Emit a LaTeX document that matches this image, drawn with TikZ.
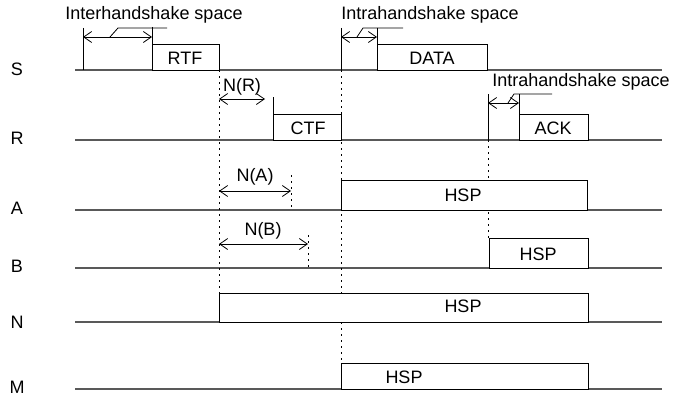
\documentclass[tikz,border=0pt]{standalone}
\usepackage{fontspec}
\setmainfont{Liberation Sans}
\usetikzlibrary{arrows.meta}

\begin{document}
\begin{tikzpicture}[x=1pt, y=-1pt,
        every node/.style={font=\fontsize{18}{21}\selectfont, inner sep=0pt},
        axis/.style={draw=black!65, line width=1.1pt},
        frame/.style={draw, fill=white, line width=0.9pt},
        guide/.style={line width=0.9pt, dash pattern=on 2pt off 4pt},
        gap/.style={{Straight Barb[length=8pt,width=11pt]}-{Straight Barb[length=8pt,width=11pt]}, line width=0.8pt}]
        \useasboundingbox (0,0) rectangle (676,396);

        % stations and their time lines
        \foreach \st/\y/\ly in {S/70/69, R/140/138, A/210/208, B/268/266, N/322/322, M/389/387} {
            \node (lbl\st) at (17,\ly) {\st};
            \coordinate (t\st) at (75,\y);
            \coordinate (e\st) at (662,\y);
            \draw[axis] (t\st) -- (e\st);
        }

        % dotted time marks
        \draw[guide] (219,70) -- (219,293);
        \draw[guide] (341,70) -- (341,363);
        \draw[guide] (488,140) -- (488,238);
        \draw[guide] (291,175) -- (291,210);
        \draw[guide] (308,235) -- (308,268);

        % frames
        \draw[frame] (152,44) rectangle (219,70);
        \draw[frame] (377,44) rectangle (487,70);
        \draw[frame] (273,114) rectangle (341,140);
        \draw[frame] (519,114) rectangle (588,140);
        \draw[frame] (341,180) rectangle (587,210);
        \draw[frame] (489,238) rectangle (588,268);
        \draw[frame] (219,293) rectangle (588,322);
        \draw[frame] (341,363) rectangle (588,389);

        \node (rtf) at (185,58) {RTF};
        \node (data) at (432,58) {DATA};
        \node (ctf) at (308,128) {CTF};
        \node (ack) at (553,128) {ACK};
        \node (hspa) at (463,195) {HSP};
        \node (hspb) at (538,254) {HSP};
        \node (hspn) at (463,306) {HSP};
        \node (hspm) at (404,377) {HSP};

        % handshake spaces
        \draw[line width=0.9pt] (83,28) -- (83,70);
        \draw[line width=0.9pt] (152,27) -- (152,44);
        \draw[line width=0.9pt] (341,28) -- (341,70);
        \draw[line width=0.9pt] (377,28) -- (377,44);
        \draw[line width=0.9pt] (273,97) -- (273,114);
        \draw[line width=0.9pt] (488,94) -- (488,140);
        \draw[line width=0.9pt] (519,94) -- (519,114);

        \coordinate (ia) at (83,37);
        \coordinate (ib) at (152,37);
        \coordinate (ja) at (341,37);
        \coordinate (jb) at (377,37);
        \coordinate (ka) at (488,103);
        \coordinate (kb) at (519,103);
        \draw[gap] (ia) -- (ib);
        \draw[gap] (ja) -- (jb);
        \draw[gap] (ka) -- (kb);
        \draw[line width=0.8pt] (110,37) -- (118,28) -- (167,28);
        \draw[line width=0.8pt] (357,37) -- (363,28) -- (403,28);
        \draw[line width=0.8pt] (508,103) -- (514,94) -- (552,94);
        \node (inter) at (154,15) {Interhandshake space};
        \node (intra1) at (430,15) {Intrahandshake space};
        \node (intra2) at (581,82) {Intrahandshake space};

        % waiting times
        \coordinate (nr0) at (219,99);
        \coordinate (nr1) at (265,99);
        \coordinate (na0) at (219,191);
        \coordinate (na1) at (291,191);
        \coordinate (nb0) at (219,244);
        \coordinate (nb1) at (308,244);
        \draw[gap] (nr0) -- (nr1);
        \draw[gap] (na0) -- (na1);
        \draw[gap] (nb0) -- (nb1);
        \node (nr) at (242,87) {N(R)};
        \node (na) at (255,177) {N(A)};
        \node (nb) at (263,231) {N(B)};
    \end{tikzpicture}
\end{document}
